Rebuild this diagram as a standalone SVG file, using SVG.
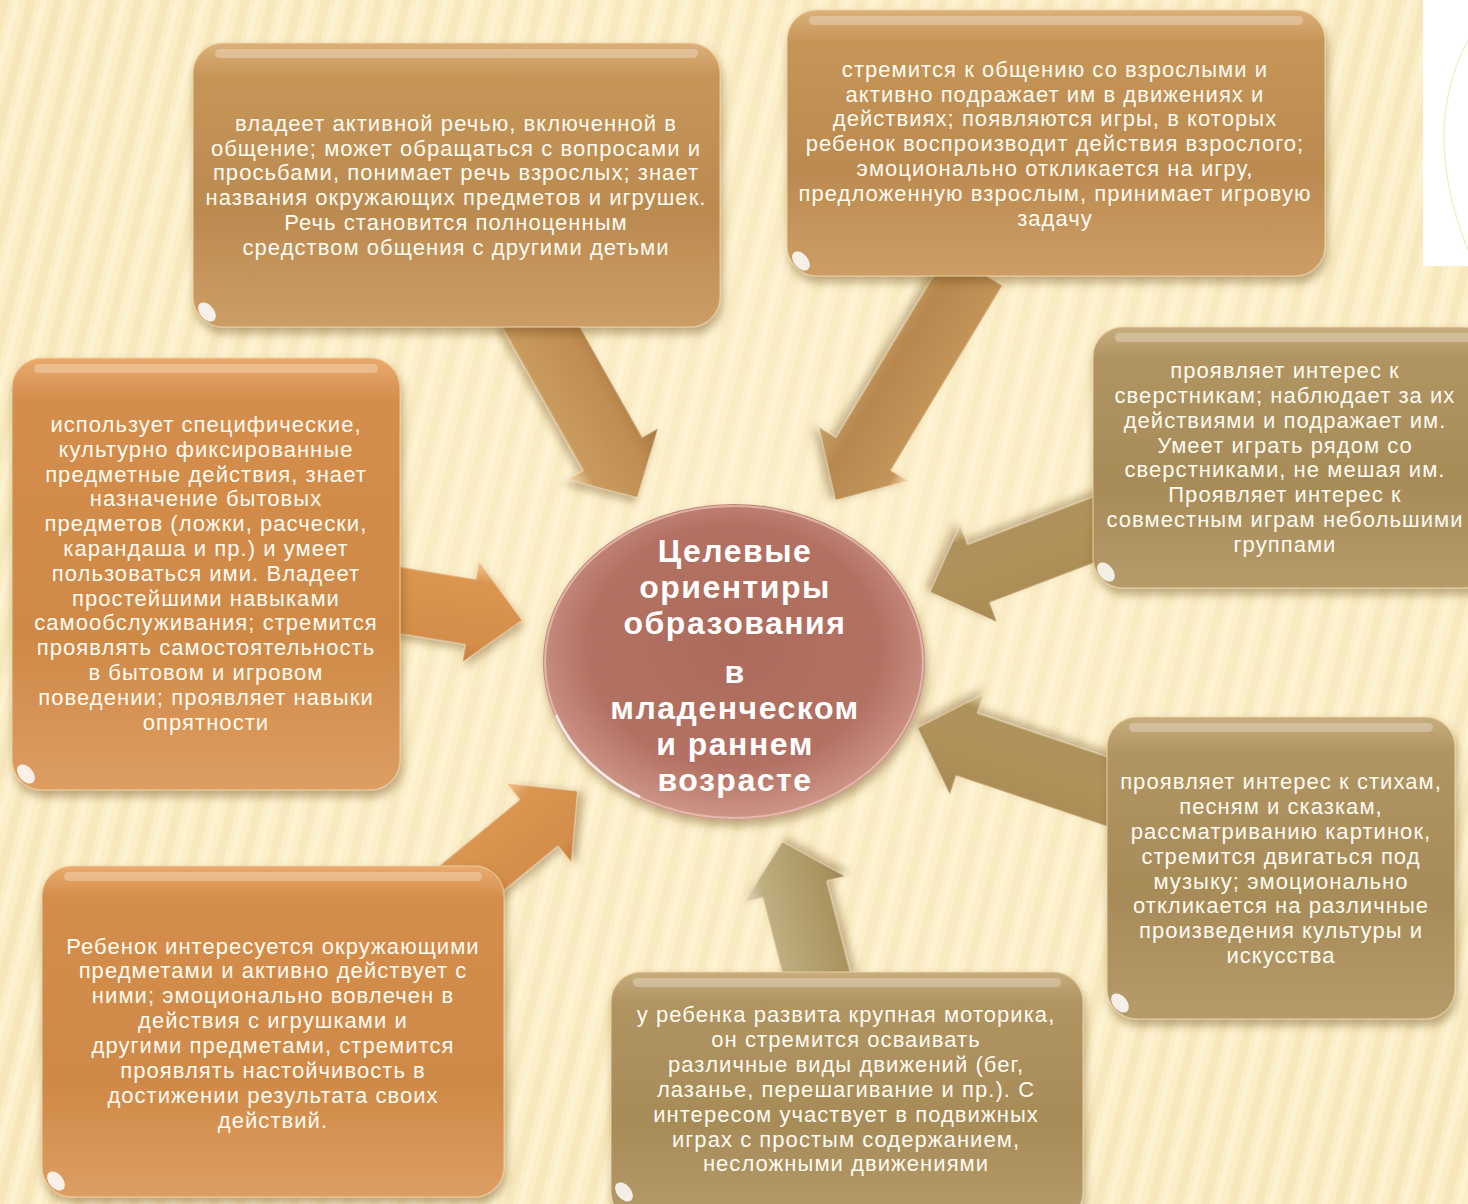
<svg xmlns="http://www.w3.org/2000/svg" width="1468" height="1204" viewBox="0 0 1468 1204">
<defs>
  <pattern id="stripes" width="26" height="26" patternUnits="userSpaceOnUse" patternTransform="rotate(14)">
    <rect width="26" height="26" fill="#fbeec6"/>
    <rect x="0" width="9" height="26" fill="#f1ddaa" opacity="0.45"/>
    <rect x="14" width="5" height="26" fill="#fff6da" opacity="0.6"/>
  </pattern>
  <radialGradient id="bgGlow" cx="0.55" cy="0.45" r="0.7">
    <stop offset="0" stop-color="#fff5d6" stop-opacity="0.5"/>
    <stop offset="1" stop-color="#fff5d6" stop-opacity="0"/>
  </radialGradient>
  <linearGradient id="gTan" x1="0" y1="0" x2="0" y2="1">
    <stop offset="0" stop-color="#dcb07a"/>
    <stop offset="0.12" stop-color="#c69557"/>
    <stop offset="0.6" stop-color="#bb8a50"/>
    <stop offset="1" stop-color="#cc9e66"/>
  </linearGradient>
  <linearGradient id="gOrange" x1="0" y1="0" x2="0" y2="1">
    <stop offset="0" stop-color="#e9aa6c"/>
    <stop offset="0.1" stop-color="#d48d4c"/>
    <stop offset="0.65" stop-color="#cf8947"/>
    <stop offset="1" stop-color="#de9e62"/>
  </linearGradient>
  <linearGradient id="gOlive" x1="0" y1="0" x2="0" y2="1">
    <stop offset="0" stop-color="#c8ad7d"/>
    <stop offset="0.12" stop-color="#b09462"/>
    <stop offset="0.6" stop-color="#a78b58"/>
    <stop offset="1" stop-color="#b69b6b"/>
  </linearGradient>
  <radialGradient id="gEllipse" cx="0.5" cy="0.45" r="0.55">
    <stop offset="0" stop-color="#ad6b5c"/>
    <stop offset="0.7" stop-color="#b37163"/>
    <stop offset="1" stop-color="#cf9788"/>
  </radialGradient>
  <linearGradient id="aTan" x1="0" y1="0" x2="0" y2="1">
    <stop offset="0" stop-color="#a8783f"/>
    <stop offset="0.3" stop-color="#c08d52"/>
    <stop offset="0.8" stop-color="#c99a5e"/>
    <stop offset="1" stop-color="#f4dcb2"/>
  </linearGradient>
  <linearGradient id="aTan2" x1="0" y1="0" x2="0" y2="1">
    <stop offset="0" stop-color="#f1d6aa"/>
    <stop offset="0.15" stop-color="#c49559"/>
    <stop offset="0.7" stop-color="#b7884f"/>
    <stop offset="1" stop-color="#c9a06a"/>
  </linearGradient>
  <linearGradient id="aOlive" x1="0" y1="0" x2="0" y2="1">
    <stop offset="0" stop-color="#a88a54"/>
    <stop offset="0.5" stop-color="#b0925a"/>
    <stop offset="0.85" stop-color="#ae925c"/>
    <stop offset="1" stop-color="#e9d6aa"/>
  </linearGradient>
  <linearGradient id="aOliveUp" x1="0" y1="0" x2="0" y2="1">
    <stop offset="0" stop-color="#e6dcc0"/>
    <stop offset="0.2" stop-color="#bfae80"/>
    <stop offset="0.8" stop-color="#a99360"/>
    <stop offset="1" stop-color="#9c8655"/>
  </linearGradient>
  <linearGradient id="aOrange" x1="0" y1="0" x2="0" y2="1">
    <stop offset="0" stop-color="#f3c48f"/>
    <stop offset="0.2" stop-color="#da9651"/>
    <stop offset="0.8" stop-color="#d48d4b"/>
    <stop offset="1" stop-color="#c47d3d"/>
  </linearGradient>
  <filter id="shadow" x="-20%" y="-20%" width="140%" height="140%">
    <feDropShadow dx="2" dy="6" stdDeviation="5" flood-color="#6e4c1e" flood-opacity="0.45"/>
  </filter>
  <filter id="ashadow" x="-20%" y="-30%" width="140%" height="160%">
    <feDropShadow dx="3" dy="5" stdDeviation="4" flood-color="#6e4c1e" flood-opacity="0.4"/>
  </filter>
  <style>
    .box { stroke: #f0d3a2; stroke-width: 1.5; stroke-opacity: 0.6; filter: url(#shadow); }
    .hl { fill: #ffffff; opacity: 0.28; }
    .spot { fill: #ffffff; opacity: 0.85; }
    .txt { font-family: "Liberation Sans", Arial, sans-serif; font-size: 22px; letter-spacing: 1.05px; fill: #fffcf2; text-anchor: middle; }
    .title { font-family: "Liberation Sans", Arial, sans-serif; font-size: 32px; letter-spacing: 1.5px; font-weight: bold; fill: #ffffff; text-anchor: middle; }
    .arrow { filter: url(#ashadow); stroke: #f6e2bd; stroke-width: 1; stroke-opacity: 0.7; }
  </style>
</defs>

<!-- background -->
<rect width="1468" height="1204" fill="url(#stripes)"/>
<rect width="1468" height="1204" fill="url(#bgGlow)"/>
<rect x="1423" y="0" width="45" height="266" fill="#ffffff"/>
<path d="M1468,40 Q1420,130 1468,250" fill="none" stroke="#eef0cc" stroke-width="1.5"/>

<!-- connectors (block arrows) -->
<g id="connectors">
  <polygon class="arrow" fill="url(#aTan)" transform="translate(529,306) rotate(60.5)" points="0,-34 170,-34 170,-52 220,0 170,52 170,34 0,34"/>
  <polygon class="arrow" fill="url(#aTan2)" transform="translate(975,269) rotate(121.1)" points="0,-32 216,-32 216,-52 270,0 216,52 216,32 0,32"/>
  <polygon class="arrow" fill="url(#aOlive)" transform="translate(1117,521) rotate(159.2)" points="0,-31 148,-31 148,-52 200,0 148,52 148,31 0,31"/>
  <polygon class="arrow" fill="url(#aOlive)" transform="translate(1126,798) rotate(198.6)" points="0,-33 168,-33 168,-53 220,0 168,53 168,33 0,33"/>
  <polygon class="arrow" fill="url(#aOliveUp)" transform="translate(820,987) rotate(-104.5)" points="0,-33 101,-33 101,-52 150,0 101,52 101,33 0,33"/>
  <polygon class="arrow" fill="url(#aOrange)" transform="translate(374,596) rotate(9.3)" points="0,-33 98,-33 98,-51 150,0 98,51 98,33 0,33"/>
  <polygon class="arrow" fill="url(#aOrange)" transform="translate(440,904) rotate(-39.4)" points="0,-30 128,-30 128,-51 178,0 128,51 128,30 0,30"/>
</g>

<!-- center -->
<g id="center">
  <ellipse cx="734" cy="662" rx="191" ry="158" fill="url(#gEllipse)" filter="url(#shadow)"/>
  <ellipse cx="734" cy="662" rx="189" ry="156" fill="none" stroke="#f3d2c8" stroke-width="2" opacity="0.6"/>
  <path d="M556,715 A189,156 0 0 0 640,797" fill="none" stroke="#ffffff" stroke-width="3" opacity="0.7"/>
  <text class="title" x="735" y="562">Целевые</text>
  <text class="title" x="735" y="598">ориентиры</text>
  <text class="title" x="735" y="634">образования</text>
  <text class="title" x="735" y="683">в</text>
  <text class="title" x="735" y="719">младенческом</text>
  <text class="title" x="735" y="755">и раннем</text>
  <text class="title" x="735" y="791">возрасте</text>
</g>

<!-- node 1 -->
<g id="n1">
  <rect class="box" x="193" y="43" width="527" height="284" rx="30" fill="url(#gTan)"/>
  <rect class="hl" x="215" y="49" width="483" height="9" rx="4.5"/>
  <ellipse class="spot" cx="207" cy="312" rx="7" ry="11" transform="rotate(-40 207 312)"/>
  <text class="txt" x="456" y="131">владеет активной речью, включенной в</text>
  <text class="txt" x="456" y="156">общение; может обращаться с вопросами и</text>
  <text class="txt" x="456" y="180">просьбами, понимает речь взрослых; знает</text>
  <text class="txt" x="456" y="205">названия окружающих предметов и игрушек.</text>
  <text class="txt" x="456" y="230">Речь становится полноценным</text>
  <text class="txt" x="456" y="255">средством общения с другими детьми</text>
</g>

<!-- node 2 -->
<g id="n2">
  <rect class="box" x="787" y="10" width="538" height="266" rx="30" fill="url(#gTan)"/>
  <rect class="hl" x="809" y="16" width="494" height="9" rx="4.5"/>
  <ellipse class="spot" cx="801" cy="261" rx="7" ry="11" transform="rotate(-40 801 261)"/>
  <text class="txt" x="1055" y="77">стремится к общению со взрослыми и</text>
  <text class="txt" x="1055" y="102">активно подражает им в движениях и</text>
  <text class="txt" x="1055" y="126">действиях; появляются игры, в которых</text>
  <text class="txt" x="1055" y="151">ребенок воспроизводит действия взрослого;</text>
  <text class="txt" x="1055" y="176">эмоционально откликается на игру,</text>
  <text class="txt" x="1055" y="201">предложенную взрослым, принимает игровую</text>
  <text class="txt" x="1055" y="226">задачу</text>
</g>

<!-- node 3 -->
<g id="n3">
  <rect class="box" x="1093" y="327" width="400" height="261" rx="30" fill="url(#gOlive)"/>
  <rect class="hl" x="1115" y="333" width="360" height="9" rx="4.5"/>
  <ellipse class="spot" cx="1106" cy="572" rx="7" ry="11" transform="rotate(-40 1106 572)"/>
  <text class="txt" x="1285" y="378">проявляет интерес к</text>
  <text class="txt" x="1285" y="403">сверстникам; наблюдает за их</text>
  <text class="txt" x="1285" y="428">действиями и подражает им.</text>
  <text class="txt" x="1285" y="453">Умеет играть рядом со</text>
  <text class="txt" x="1285" y="477">сверстниками, не мешая им.</text>
  <text class="txt" x="1285" y="502">Проявляет интерес к</text>
  <text class="txt" x="1285" y="527">совместным играм небольшими</text>
  <text class="txt" x="1285" y="552">группами</text>
</g>

<!-- node 4 -->
<g id="n4">
  <rect class="box" x="12" y="358" width="388" height="432" rx="30" fill="url(#gOrange)"/>
  <rect class="hl" x="34" y="364" width="344" height="9" rx="4.5"/>
  <ellipse class="spot" cx="26" cy="774" rx="7" ry="11" transform="rotate(-40 26 774)"/>
  <text class="txt" x="206" y="432">использует специфические,</text>
  <text class="txt" x="206" y="457">культурно фиксированные</text>
  <text class="txt" x="206" y="482">предметные действия, знает</text>
  <text class="txt" x="206" y="506">назначение бытовых</text>
  <text class="txt" x="206" y="531">предметов (ложки, расчески,</text>
  <text class="txt" x="206" y="556">карандаша и пр.) и умеет</text>
  <text class="txt" x="206" y="581">пользоваться ими. Владеет</text>
  <text class="txt" x="206" y="606">простейшими навыками</text>
  <text class="txt" x="206" y="630">самообслуживания; стремится</text>
  <text class="txt" x="206" y="655">проявлять самостоятельность</text>
  <text class="txt" x="206" y="680">в бытовом и игровом</text>
  <text class="txt" x="206" y="705">поведении; проявляет навыки</text>
  <text class="txt" x="206" y="730">опрятности</text>
</g>

<!-- node 5 -->
<g id="n5">
  <rect class="box" x="1107" y="717" width="348" height="302" rx="30" fill="url(#gOlive)"/>
  <rect class="hl" x="1129" y="723" width="304" height="9" rx="4.5"/>
  <ellipse class="spot" cx="1120" cy="1003" rx="7" ry="11" transform="rotate(-40 1120 1003)"/>
  <text class="txt" x="1281" y="789">проявляет интерес к стихам,</text>
  <text class="txt" x="1281" y="814">песням и сказкам,</text>
  <text class="txt" x="1281" y="839">рассматриванию картинок,</text>
  <text class="txt" x="1281" y="864">стремится двигаться под</text>
  <text class="txt" x="1281" y="889">музыку; эмоционально</text>
  <text class="txt" x="1281" y="913">откликается на различные</text>
  <text class="txt" x="1281" y="938">произведения культуры и</text>
  <text class="txt" x="1281" y="963">искусства</text>
</g>

<!-- node 6 -->
<g id="n6">
  <rect class="box" x="611" y="972" width="472" height="250" rx="30" fill="url(#gOlive)"/>
  <rect class="hl" x="633" y="978" width="428" height="9" rx="4.5"/>
  <ellipse class="spot" cx="624" cy="1192" rx="7" ry="11" transform="rotate(-40 624 1192)"/>
  <text class="txt" x="846" y="1022">у ребенка развита крупная моторика,</text>
  <text class="txt" x="846" y="1047">он стремится осваивать</text>
  <text class="txt" x="846" y="1072">различные виды движений (бег,</text>
  <text class="txt" x="846" y="1097">лазанье, перешагивание и пр.). С</text>
  <text class="txt" x="846" y="1122">интересом участвует в подвижных</text>
  <text class="txt" x="846" y="1147">играх с простым содержанием,</text>
  <text class="txt" x="846" y="1171">несложными движениями</text>
</g>

<!-- node 7 -->
<g id="n7">
  <rect class="box" x="42" y="866" width="462" height="331" rx="30" fill="url(#gOrange)"/>
  <rect class="hl" x="64" y="872" width="418" height="9" rx="4.5"/>
  <ellipse class="spot" cx="56" cy="1181" rx="7" ry="11" transform="rotate(-40 56 1181)"/>
  <text class="txt" x="273" y="954">Ребенок интересуется окружающими</text>
  <text class="txt" x="273" y="978">предметами и активно действует с</text>
  <text class="txt" x="273" y="1003">ними; эмоционально вовлечен в</text>
  <text class="txt" x="273" y="1028">действия с игрушками и</text>
  <text class="txt" x="273" y="1053">другими предметами, стремится</text>
  <text class="txt" x="273" y="1078">проявлять настойчивость в</text>
  <text class="txt" x="273" y="1103">достижении результата своих</text>
  <text class="txt" x="273" y="1128">действий.</text>
</g>
</svg>
